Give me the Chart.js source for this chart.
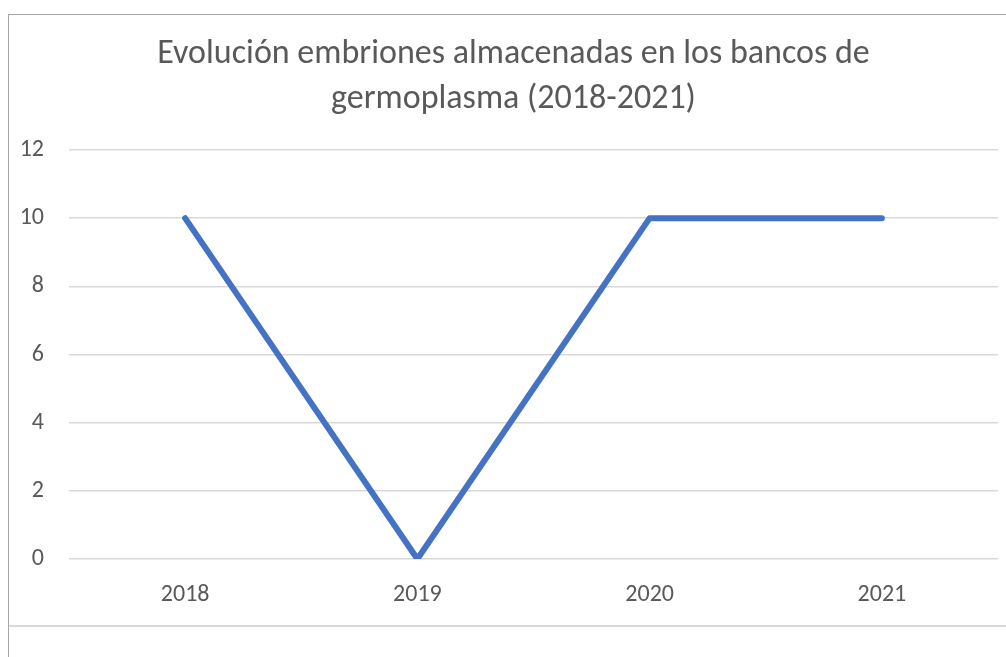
<!DOCTYPE html>
<html lang="es">
<head>
    <meta charset="UTF-8">
    <title>Evolución embriones</title>
    <script src="https://cdn.jsdelivr.net/npm/chart.js@4"></script>
    <style>
        body{
            margin: 0;
            background-color: #ffffff;
            overflow: hidden;
        }
        .marco{
            position: absolute;
            left: 8px;
            top: 14px;
            width: 1100px;
            height: 700px;
            border-left: 1px solid #a6a6a6;
            border-top: 1px solid #a6a6a6;
        }
        .raya{
            position: absolute;
            left: 9px;
            top: 625px;
            width: 1000px;
            height: 2px;
            background-color: #d9d9d9;
        }
        .grafica{
            position: absolute;
            left: 9px;
            top: 15px;
            width: 1010px;
            height: 642px;
        }
    </style>
</head>
<body>
    <div class="marco"></div>
    <div class="grafica">
        <canvas id="miCanvas" width="1010" height="642"></canvas>
    </div>
    <div class="raya"></div>
    <script>
        // datos del grafico
        const anios = ["2018", "2019", "2020", "2021"];
        const embriones = [10, 0, 10, 10];
        const titulo = ["Evolución embriones almacenadas en los bancos de", "germoplasma (2018-2021)"];

        const fuente = "Carlito, 'Open Sans', sans-serif";
        const gris = "#595959";

        // el titulo va centrado en todo el marco, no solo entre los paddings
        const moverTitulo = {
            id: "moverTitulo",
            afterLayout(chart) {
                chart.titleBlock.left += 5;
                chart.titleBlock.right += 5;
            }
        };

        const ctx = document.getElementById("miCanvas").getContext("2d");
        new Chart(ctx, {
            type: "line",
            data: {
                labels: anios,
                datasets: [{
                    data: embriones,
                    borderColor: "#4472C4",
                    borderWidth: 6,
                    borderCapStyle: "round",
                    borderJoinStyle: "round",
                    tension: 0,
                    pointRadius: 0,
                    fill: false
                }]
            },
            options: {
                responsive: false,
                animation: false,
                layout: {
                    padding: { left: 10, right: 21, top: 0, bottom: 0 }
                },
                plugins: {
                    legend: { display: false },
                    tooltip: { enabled: false },
                    title: {
                        display: true,
                        text: titulo,
                        color: gris,
                        font: { family: fuente, size: 34, weight: "normal", lineHeight: "45px" },
                        padding: { top: 16.5, bottom: 28.5 }
                    }
                },
                scales: {
                    x: {
                        offset: true,
                        grid: { display: false },
                        border: { display: false },
                        ticks: {
                            color: gris,
                            padding: 14,
                            font: { family: fuente, size: 24 }
                        },
                        afterFit: (s) => { s.height = 98; }
                    },
                    y: {
                        min: 0,
                        max: 12,
                        grid: { color: "#d9d9d9", lineWidth: 1.5, drawTicks: false },
                        border: { display: false },
                        ticks: {
                            stepSize: 2,
                            color: gris,
                            padding: 25,
                            font: { family: fuente, size: 24 }
                        },
                        afterFit: (s) => { s.width = 50; }
                    }
                }
            },
            plugins: [moverTitulo]
        });
    </script>
</body>
</html>
